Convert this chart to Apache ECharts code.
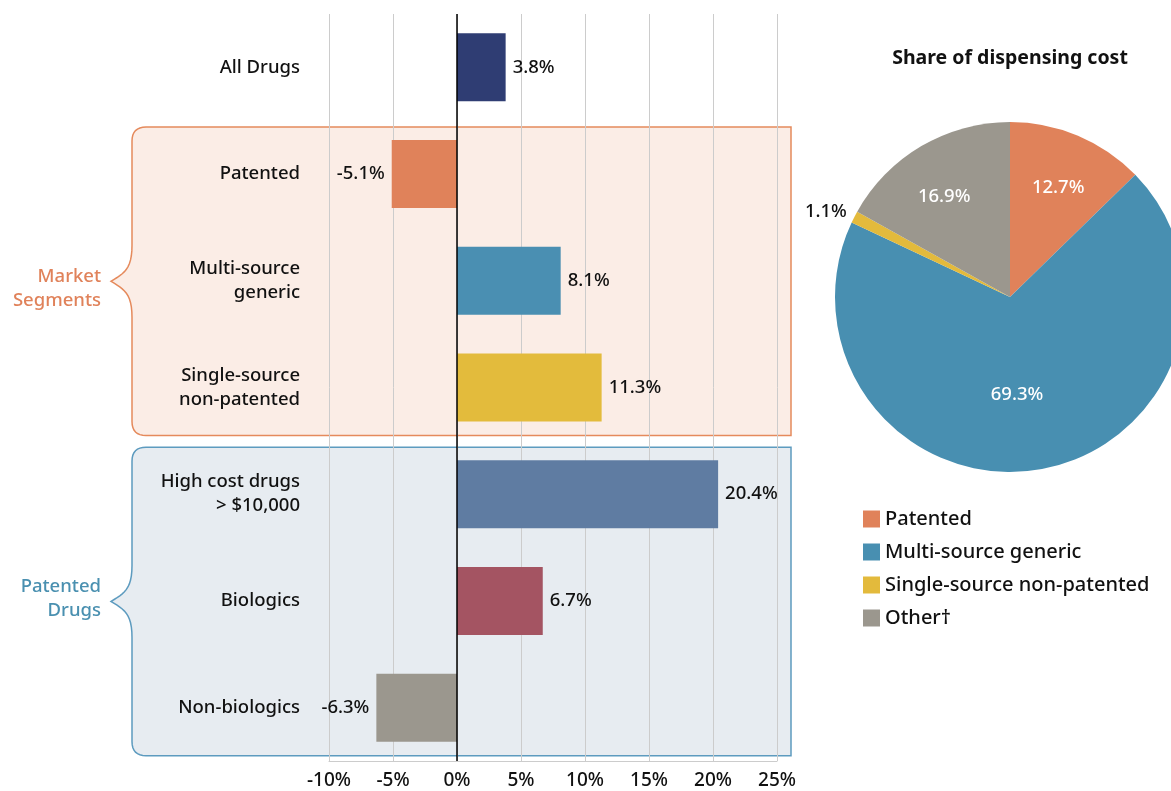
<!DOCTYPE html>
<html>
<head>
<meta charset="utf-8">
<script src="https://cdn.jsdelivr.net/npm/echarts@6/dist/echarts.min.js"></script>
<style>
  html, body { margin: 0; padding: 0; background: #fff; }
  #chart { width: 1171px; height: 791px; }
</style>
</head>
<body>
<div id="chart"></div>
<script>
// bar chart: growth by segment
const categories = [
  'All Drugs',
  'Patented',
  'Multi-source\ngeneric',
  'Single-source\nnon-patented',
  'High cost drugs\n> $10,000',
  'Biologics',
  'Non-biologics'
]
const growth = [3.8, -5.1, 8.1, 11.3, 20.4, 6.7, -6.3]
const barColors = ['#2f3d73', '#e0825a', '#4a8fb2', '#e3bb3c', '#5f7ca2', '#a45462', '#9b978e']

// pie: share of dispensing cost
const shareNames = ['Patented', 'Multi-source generic', 'Single-source non-patented', 'Other†']
const shareValues = [12.7, 69.3, 1.1, 16.9]
const shareColors = ['#e0825a', '#488fb1', '#e3ba3c', '#9b978e']
const shareLabelOffsets = [[13, -26], [-8, 8], [2, -3], [-20, -22]]

// groups drawn as braced boxes
const groups = [
  { name: 'Market\nSegments', from: 1, to: 3, stroke: '#e58a5c', fill: '#fbede6', text: '#e0825a', dy: 7 },
  { name: 'Patented\nDrugs', from: 4, to: 6, stroke: '#5d9bbf', fill: '#e7ecf1', text: '#4a90b0', dy: -3 }
]

const FONT = 'Noto Sans'
const chart = echarts.init(document.getElementById('chart'), null, { renderer: 'canvas' })

const option = {
  animation: false,
  textStyle: { fontFamily: FONT, fontWeight: 500 },
  title: {
    text: 'Share of dispensing cost',
    left: 1005,
    top: 43,
    textAlign: 'center',
    textStyle: { fontFamily: FONT, fontSize: 19.5, fontWeight: 'bold', color: '#111' }
  },
  legend: {
    data: shareNames,
    orient: 'vertical',
    left: 858,
    top: 504,
    itemWidth: 17,
    itemHeight: 17,
    itemGap: 13,
    icon: 'rect',
    textStyle: { fontFamily: FONT, fontSize: 20, fontWeight: 500, color: '#111' }
  },
  grid: { left: 329, right: 1171 - 777, top: 14, bottom: 30, containLabel: false },
  xAxis: {
    type: 'value',
    min: -10,
    max: 25,
    interval: 5,
    axisLine: { show: true, lineStyle: { color: '#cccccc' } },
    axisTick: { show: false },
    axisLabel: { formatter: '{value}%', fontSize: 19, fontWeight: 500, color: '#111', margin: 10 },
    splitLine: { lineStyle: { color: '#cccccc', width: 1 } }
  },
  yAxis: {
    type: 'category',
    data: categories,
    inverse: true,
    axisLine: { show: false },
    axisTick: { show: false },
    axisLabel: { fontSize: 18.5, fontWeight: 500, color: '#111', margin: 29, lineHeight: 24 }
  },
  series: [
    {
      type: 'bar',
      data: growth.map((v, i) => ({
        value: v,
        itemStyle: { color: barColors[i] },
        label: { position: v < 0 ? 'left' : 'right' }
      })),
      barWidth: 68,
      label: {
        show: true,
        formatter: p => p.value.toFixed(1) + '%',
        fontSize: 18.5,
        fontWeight: 500,
        color: '#111',
        distance: 7
      },
      markLine: {
        silent: true,
        symbol: 'none',
        label: { show: false },
        lineStyle: { color: '#000', type: 'solid', width: 1.5 },
        data: [{ xAxis: 0 }]
      }
    },
    {
      type: 'pie',
      center: [1010, 297],
      radius: 175,
      startAngle: 90,
      clockwise: true,
      avoidLabelOverlap: false,
      data: shareNames.map((n, i) => ({
        name: n,
        value: shareValues[i],
        itemStyle: { color: shareColors[i] },
        label: i === 2
          ? { position: 'outside', color: '#111', offset: shareLabelOffsets[i] }
          : { position: 'inside', color: '#fff', offset: shareLabelOffsets[i] },
        labelLine: { show: false, length: 5, length2: 0 }
      })),
      label: {
        show: true,
        formatter: p => p.value.toFixed(1) + '%',
        fontSize: 18.5,
        fontWeight: 500
      },
      emphasis: { disabled: true }
    }
  ]
}

chart.setOption(option)

// sample bezier segments into polygon points
const quad = (p0, p1, p2, n) => {
  const out = []
  for (let k = 1; k <= n; k++) {
    const t = k / n, u = 1 - t
    out.push([u * u * p0[0] + 2 * u * t * p1[0] + t * t * p2[0], u * u * p0[1] + 2 * u * t * p1[1] + t * t * p2[1]])
  }
  return out
}
const cubic = (p0, p1, p2, p3, n) => {
  const out = []
  for (let k = 1; k <= n; k++) {
    const t = k / n, u = 1 - t
    const a = u * u * u, b = 3 * u * u * t, c = 3 * u * t * t, d = t * t * t
    out.push([a * p0[0] + b * p1[0] + c * p2[0] + d * p3[0], a * p0[1] + b * p1[1] + c * p2[1] + d * p3[1]])
  }
  return out
}

// braced background boxes, placed from the category axis
const x0 = 132
const xRight = 791
const graphics = []
groups.forEach(g => {
  const yTop = chart.convertToPixel({ yAxisIndex: 0 }, categories[g.from]) - 47
  const yBot = chart.convertToPixel({ yAxisIndex: 0 }, categories[g.to]) + 48
  const mid = (yTop + yBot) / 2
  const r = 14
  const tip = 21
  let pts = [[x0 + r, yTop], [xRight, yTop], [xRight, yBot], [x0 + r, yBot]]
  pts = pts.concat(quad([x0 + r, yBot], [x0, yBot], [x0, yBot - r], 8))
  pts.push([x0, mid + 36])
  pts = pts.concat(cubic([x0, mid + 36], [x0, mid + 12], [x0 - 8, mid + 8], [x0 - tip, mid], 12))
  pts = pts.concat(cubic([x0 - tip, mid], [x0 - 8, mid - 8], [x0, mid - 12], [x0, mid - 36], 12))
  pts.push([x0, yTop + r])
  pts = pts.concat(quad([x0, yTop + r], [x0, yTop], [x0 + r, yTop], 8))
  graphics.push({
    type: 'polygon',
    z: -10,
    silent: true,
    shape: { points: pts },
    style: { fill: g.fill, stroke: g.stroke, lineWidth: 1.5 }
  })
  graphics.push({
    type: 'text',
    z: -5,
    silent: true,
    x: x0 - tip - 10,
    y: mid + g.dy,
    style: {
      text: g.name,
      fill: g.text,
      font: '500 18.5px ' + FONT,
      align: 'right',
      verticalAlign: 'middle',
      lineHeight: 24
    }
  })
})
chart.setOption({ graphic: { elements: graphics } })
</script>
</body>
</html>
